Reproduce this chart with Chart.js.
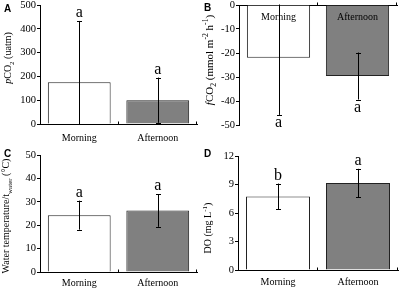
<!DOCTYPE html>
<html>
<head>
<meta charset="utf-8">
<script src="https://cdn.jsdelivr.net/npm/chart.js"></script>
<style>
  body { margin: 0; width: 400px; height: 290px; background: #fff; position: relative; overflow: hidden;
         font-family: "Liberation Serif", "Times New Roman", serif; color: #000; }
  .panel { position: absolute; width: 200px; height: 145px; }
  .tag { position: absolute; font: bold 10px "Liberation Sans", Arial, sans-serif; line-height: 10px; }
  .ytitle { position: absolute; white-space: nowrap; font-size: 10px; line-height: 12px;
            transform: translate(-50%, -50%) rotate(-90deg); }
  .ytitle sub, .ytitle sup { font-size: 70%; line-height: 0; }
</style>
</head>
<body>
<canvas id="chartA" class="panel" width="200" height="145" style="left:0;top:0"></canvas>
<canvas id="chartB" class="panel" width="200" height="145" style="left:200px;top:0"></canvas>
<canvas id="chartC" class="panel" width="200" height="145" style="left:0;top:145px"></canvas>
<canvas id="chartD" class="panel" width="200" height="145" style="left:200px;top:145px"></canvas>

<div class="tag" style="left:4px;top:4px">A</div>
<div class="tag" style="left:204px;top:3px">B</div>
<div class="tag" style="left:4px;top:149px">C</div>
<div class="tag" style="left:204px;top:149px">D</div>

<div class="ytitle" style="left:8px;top:58px"><i>p</i>CO<sub>2</sub> (uatm)</div>
<div class="ytitle" style="left:209px;top:60px;font-size:11px"><i>f</i>CO<sub>2</sub> (mmol m<sup>-2</sup> h<sup>-1</sup>)</div>
<div class="ytitle" style="left:6px;top:216px">Water temperature/t<sub>water</sub> (°C)</div>
<div class="ytitle" style="left:208px;top:228px">DO (mg L<sup>-1</sup>)</div>

<script>
// data
const categories = ["Morning", "Afternoon"];

const pco2 = [175, 100];
const pco2Sd = [258, 95];
const pco2Letters = ["a", "a"];

const fco2 = [-22, -29.6];
const fco2Sd = [23.8, 9.8];
const fco2Letters = ["a", "a"];

const waterTemp = [24.3, 26.3];
const waterTempSd = [6.2, 7];
const waterTempLetters = ["a", "a"];

const dissolvedO2 = [7.75, 9.15];
const dissolvedO2Sd = [1.35, 1.5];
const dissolvedO2Letters = ["b", "a"];

const serif = "'Liberation Serif', 'Times New Roman', serif";

// error bars, significance letters, small upward x ticks, inside labels
const extras = {
  id: "extras",
  afterDatasetsDraw(chart, args, opts) {
    const { ctx, chartArea: a, scales: { x, y } } = chart;
    const vals = chart.data.datasets[0].data;
    const n = vals.length;
    const catW = (a.right - a.left) / n;

    ctx.save();
    ctx.beginPath();
    ctx.rect(a.left, a.top - 0.5, a.right - a.left, a.bottom - a.top + 1);
    ctx.clip();
    ctx.strokeStyle = "#000";
    ctx.lineWidth = 1;
    vals.forEach((v, i) => {
      const cx = Math.round(x.getPixelForValue(i)) + 0.5;
      const hi = y.getPixelForValue(v + opts.sd[i]);
      const lo = y.getPixelForValue(v - opts.sd[i]);
      ctx.beginPath();
      ctx.moveTo(cx, hi); ctx.lineTo(cx, lo);
      ctx.moveTo(cx - 2.5, Math.round(hi) + 0.5); ctx.lineTo(cx + 2.5, Math.round(hi) + 0.5);
      ctx.moveTo(cx - 2.5, Math.round(lo) + 0.5); ctx.lineTo(cx + 2.5, Math.round(lo) + 0.5);
      ctx.stroke();
    });
    ctx.restore();

    ctx.save();
    ctx.fillStyle = "#000";
    ctx.strokeStyle = "#000";
    ctx.textAlign = "center";
    ctx.textBaseline = "alphabetic";
    ctx.font = "16px " + serif;
    vals.forEach((v, i) => {
      const cx = x.getPixelForValue(i);
      if (v >= 0) {
        ctx.fillText(opts.letters[i], cx, y.getPixelForValue(v + opts.sd[i]) - 4);
      } else {
        ctx.fillText(opts.letters[i], cx, y.getPixelForValue(v - opts.sd[i]) + 12);
      }
    });

    // x tick marks point up from the axis line
    const axisY = Math.round(opts.inside ? a.top : a.bottom) + 0.5;
    ctx.beginPath();
    for (let i = 0; i < n; i++) {
      const tx = Math.round(x.getPixelForValue(i) + catW / 2) - 0.5;
      ctx.moveTo(tx, axisY); ctx.lineTo(tx, axisY - 3);
    }
    ctx.stroke();

    if (opts.inside) {
      ctx.font = "10px " + serif;
      ctx.textBaseline = "middle";
      categories.forEach((c, i) => ctx.fillText(c, x.getPixelForValue(i), a.top + 12));
    }
    ctx.restore();
  }
};

function makePanel(id, values, sd, letters, yMin, yMax, step, area, inside, labelPad) {
  new Chart(document.getElementById(id), {
    type: "bar",
    data: {
      labels: categories,
      datasets: [{
        data: values,
        backgroundColor: ["#ffffff", "#808080"],
        borderColor: "#222",
        borderWidth: 1,
        barPercentage: 0.8,
        categoryPercentage: 1
      }]
    },
    plugins: [extras],
    options: {
      responsive: false,
      animation: false,
      layout: { padding: { left: 0, right: 200 - area.right, top: area.top, bottom: inside ? 145 - area.bottom : 0 } },
      plugins: {
        legend: { display: false },
        tooltip: { enabled: false },
        extras: { sd: sd, letters: letters, inside: inside }
      },
      scales: {
        x: {
          position: inside ? "top" : "bottom",
          grid: { display: false, drawTicks: false, tickLength: 0 },
          border: { display: true, color: "#000", width: 1 },
          ticks: { display: !inside, color: "#000", padding: labelPad, maxRotation: 0,
                   font: { family: serif, size: 10 } },
          afterFit(s) {
            s.height = inside ? 0 : 145 - area.bottom;
            s.paddingLeft = 0; s.paddingRight = 0;
          }
        },
        y: {
          min: yMin, max: yMax,
          ticks: { stepSize: step, color: "#000", padding: 1, font: { family: serif, size: 10.5 } },
          grid: { drawOnChartArea: false, drawTicks: true, tickLength: 3, color: "#000" },
          border: { display: true, color: "#000", width: 1 },
          afterFit(s) {
            s.width = area.left;
            s.paddingTop = 0; s.paddingBottom = 0;
          }
        }
      }
    }
  });
}

makePanel("chartA", pco2, pco2Sd, pco2Letters, 0, 500, 100,
  { left: 40, right: 197, top: 5, bottom: 124 }, false, 8);
makePanel("chartB", fco2, fco2Sd, fco2Letters, -50, 0, 10,
  { left: 39, right: 197, top: 5, bottom: 125 }, true, 0);
makePanel("chartC", waterTemp, waterTempSd, waterTempLetters, 0, 50, 10,
  { left: 40, right: 197, top: 10, bottom: 127 }, false, 5);
makePanel("chartD", dissolvedO2, dissolvedO2Sd, dissolvedO2Letters, 0, 12, 3,
  { left: 38, right: 198, top: 11, bottom: 125 }, false, 6);
</script>
</body>
</html>
